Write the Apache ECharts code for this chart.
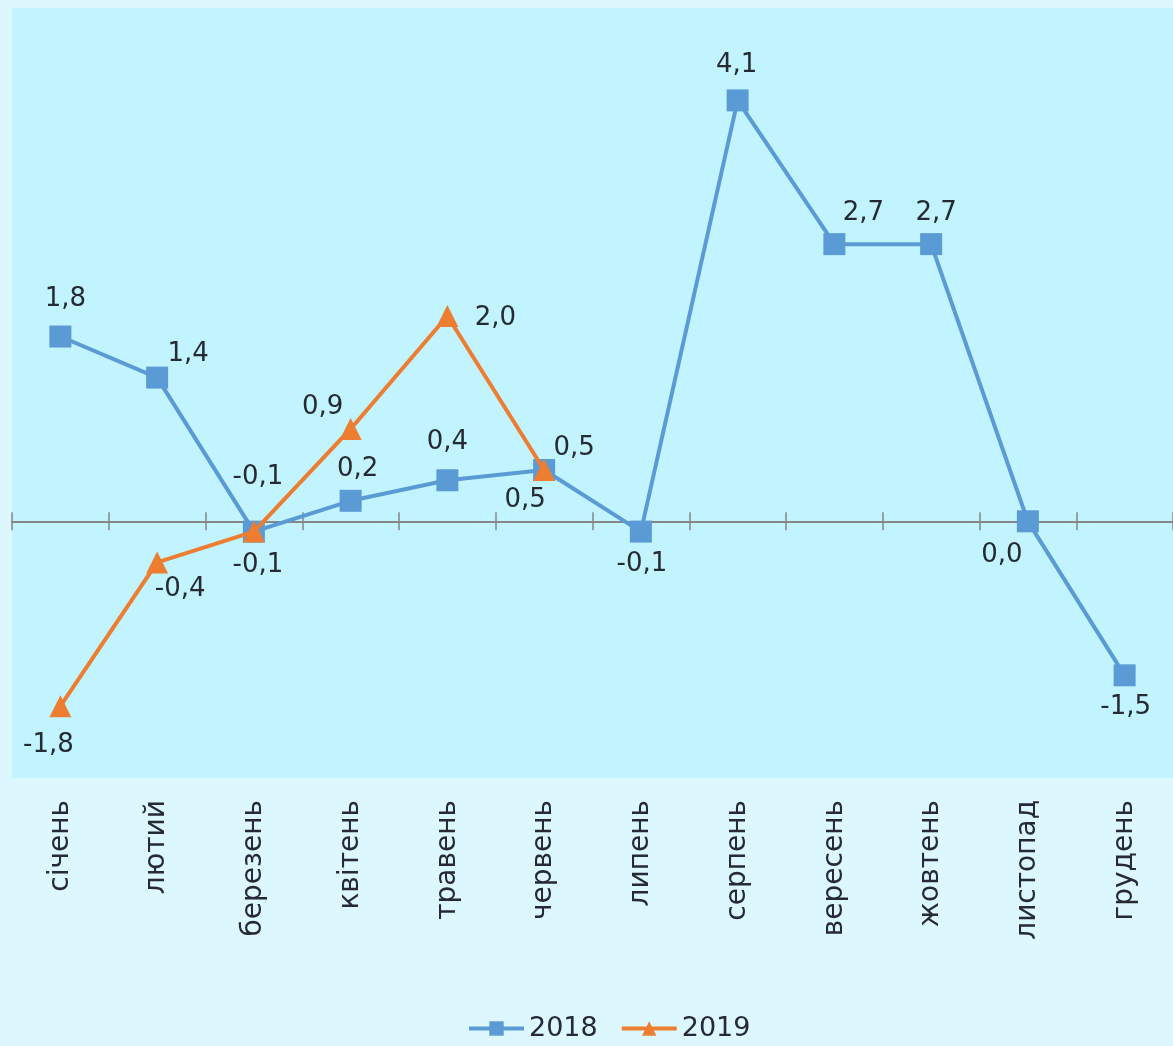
<!DOCTYPE html>
<html>
<head>
<meta charset="utf-8">
<script src="https://cdn.jsdelivr.net/npm/echarts@6/dist/echarts.min.js"></script>
<style>
html,body{margin:0;padding:0;background:#ddf7fe;}
#chart{width:1173px;height:1046px;}
</style>
</head>
<body>
<div id="chart"></div>
<script>
// ---- data ----
const categories = ['січень','лютий','березень','квітень','травень','червень','липень','серпень','вересень','жовтень','листопад','грудень'];
const values2018 = [1.8, 1.4, -0.1, 0.2, 0.4, 0.5, -0.1, 4.1, 2.7, 2.7, 0.0, -1.5];
const values2019 = [-1.8, -0.4, -0.1, 0.9, 2.0, 0.5];
const seriesNames = ['2018', '2019'];

// ---- label placement (layout only) ----
const labelOffsets2018 = [[5,-37],[31,-23],[4,34],[7,-32],[0,-38],[30,-22],[1,33],[-1,-35],[29,-31],[5,-31],[-26,34],[1,32]];
const labelOffsets2019 = [[-12,39],[23,27],[4,-54],[-28,-22],[48,2],[-19,30]];

const TEXT = '#262b33';
const FONT = 'DejaVu Sans, Verdana, sans-serif';
const fmt = v => v.toFixed(1).replace('.', ',');

function buildData(vals, offs) {
  return vals.map((v, i) => ({
    value: v,
    label: { offset: offs[i] }
  }));
}

const chart = echarts.init(document.getElementById('chart'));
chart.setOption({
  backgroundColor: '#ddf7fe',
  animation: false,
  textStyle: { fontFamily: FONT },
  grid: {
    left: 12, right: 0, top: 8, bottom: 268,
    show: true, backgroundColor: '#c1f4fe', borderWidth: 0, containLabel: false
  },
  legend: {
    bottom: -1, left: 462,
    itemWidth: 55, itemHeight: 18, itemGap: 22,
    lineStyle: { width: 4 },
    textStyle: { color: TEXT, fontSize: 27, fontFamily: FONT },
    data: seriesNames
  },
  xAxis: [
    {
      type: 'category', data: categories, position: 'bottom',
      axisLine: { onZero: true, onZeroAxisIndex: 0, lineStyle: { color: '#868686', width: 2 } },
      axisTick: { show: true, length: 9, lineStyle: { color: '#868686', width: 1.5 } },
      axisLabel: { show: false }, splitLine: { show: false }
    },
    {
      type: 'category', data: categories, position: 'top',
      axisLine: { onZero: true, onZeroAxisIndex: 0, show: false },
      axisTick: { show: true, length: 9, lineStyle: { color: '#868686', width: 1.5 } },
      axisLabel: { show: false }, splitLine: { show: false }
    },
    {
      type: 'category', data: categories, position: 'bottom',
      axisLine: { onZero: false, show: false },
      axisTick: { show: false },
      axisLabel: { show: true, rotate: 90, margin: 22, color: TEXT, fontSize: 28, fontFamily: FONT },
      splitLine: { show: false }
    }
  ],
  yAxis: { type: 'value', min: -2.5, max: 5, show: false, splitLine: { show: false } },
  series: [
    {
      name: seriesNames[0], type: 'line', xAxisIndex: 0,
      data: buildData(values2018, labelOffsets2018),
      symbol: 'rect', symbolSize: 22,
      lineStyle: { color: '#5b9bd5', width: 4 },
      itemStyle: { color: '#5b9bd5' },
      label: { show: true, position: 'inside', color: TEXT, fontSize: 26, fontFamily: FONT,
               formatter: p => fmt(p.value) },
      z: 3
    },
    {
      name: seriesNames[1], type: 'line', xAxisIndex: 0,
      data: buildData(values2019, labelOffsets2019),
      symbol: 'triangle', symbolSize: 22,
      lineStyle: { color: '#ed7d31', width: 4 },
      itemStyle: { color: '#ed7d31' },
      label: { show: true, position: 'inside', color: TEXT, fontSize: 26, fontFamily: FONT,
               formatter: p => fmt(p.value) },
      z: 4
    }
  ]
});
</script>
</body>
</html>
